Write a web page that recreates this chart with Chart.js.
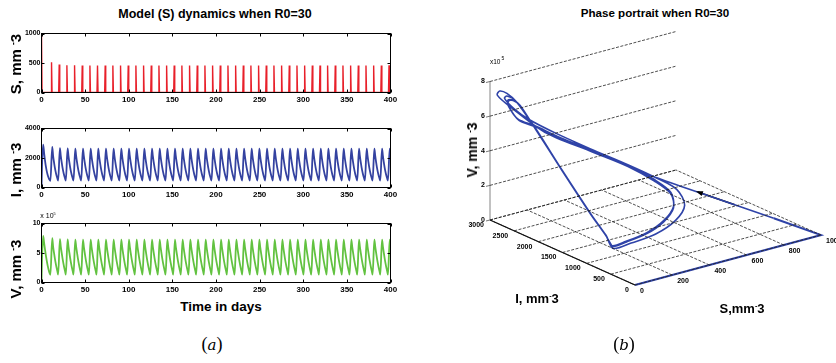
<!DOCTYPE html>
<html>
<head>
<meta charset="utf-8">
<script src="https://cdn.jsdelivr.net/npm/chart.js@4.4.0/dist/chart.umd.min.js"></script>
<style>
  body { margin: 0; width: 836px; height: 363px; overflow: hidden; position: relative; background: #fff;
         font-family: "Liberation Sans", Arial, sans-serif; }
  canvas { position: absolute; }
  .t { position: absolute; font-weight: bold; white-space: nowrap; color: #000; transform: translate(-50%, -50%); }
  .rot { transform: translate(-50%, -50%) rotate(-90deg); }
  sup { font-size: 55%; vertical-align: 0.6em; line-height: 0; }
  .cap { position: absolute; font-family: "Liberation Serif", "DejaVu Serif", serif; font-size: 18px; transform: translate(-50%, -50%); }
  .cap i { font-family: "DejaVu Serif", serif; font-size: 15px; }
</style>
</head>
<body>

<div class="t" style="left:215px;top:14px;font-size:12.5px">Model (S) dynamics when R0=30</div>
<div class="t" style="left:655px;top:12px;font-size:11.6px">Phase portrait when R0=30</div>

<canvas id="cS" width="400" height="82" style="left:0;top:25px"></canvas>
<canvas id="cI" width="400" height="82" style="left:0;top:120px"></canvas>
<canvas id="cV" width="400" height="82" style="left:0;top:215px"></canvas>
<canvas id="c3" width="396" height="320" style="left:440px;top:0"></canvas>

<div class="t rot" style="left:15px;top:64px;font-size:15px">S, mm <sup>-</sup>3</div>
<div class="t rot" style="left:15px;top:170px;font-size:15px">I, mm <sup>-</sup>3</div>
<div class="t rot" style="left:15px;top:269px;font-size:15px">V, mm <sup>-</sup>3</div>
<div class="t" style="left:48px;top:215px;font-size:7px;font-weight:normal">x 10<sup>5</sup></div>
<div class="t" style="left:221px;top:306px;font-size:13.5px">Time in days</div>

<div class="t rot" style="left:472px;top:150px;font-size:14px">V, mm <sup>-</sup>3</div>
<div class="t" style="left:537px;top:298px;font-size:13px">I, mm<sup>-</sup>3</div>
<div class="t" style="left:742px;top:308px;font-size:13px">S,mm<sup>-</sup>3</div>

<div class="cap" style="left:212px;top:344px">(<i>a</i>)</div>
<div class="cap" style="left:624px;top:344px">(<i>b</i>)</div>

<script>
// ---------- time series data (days, values) ----------
const xTicks = [0, 50, 100, 150, 200, 250, 300, 350, 400];

// days of each I peak (one per cycle)
const cycleDays = [12.3, 21.1, 29.9, 38.7, 47.5, 56.3, 65.0, 73.8, 82.6, 91.4, 100.2, 109.0, 117.8,
  126.6, 135.4, 144.2, 152.9, 161.7, 170.5, 179.3, 188.1, 196.9, 205.7, 214.5, 223.3, 232.1,
  240.8, 249.6, 258.4, 267.2, 276.0, 284.8, 293.6, 302.4, 311.2, 320.0, 328.7, 337.5, 346.3,
  355.1, 363.9, 372.7, 381.5, 390.3, 399.1];

// S: start + one spike per cycle
const sHeadDays = [0, 0.6];
const sHeadVals = [1000, 0];
const sSpikeOffsets = [-1.4, -0.8, -0.2];
const sPeaks = [514, 474, 463, 460, 458, 457, 457, 456, 457, 457, 456, 457, 457, 456, 457, 457,
  456, 457, 457, 456, 457, 457, 456, 457, 457, 456, 457, 457, 456, 457, 457, 456, 457, 457, 456,
  457, 457, 456, 457, 457, 456, 457, 457, 458, 460];

// I: first transient, then peak + decay per cycle
const iHeadDays = [0, 0.6, 1.9, 3, 4, 5, 6, 7, 8, 9, 10.2];
const iHeadVals = [0, 1500, 2900, 2330, 1840, 1430, 1110, 870, 680, 540, 450];
const iPeaks = [2757, 2665, 2645, 2640, 2640, 2640, 2640, 2640, 2640, 2640, 2640, 2640, 2640,
  2640, 2640, 2640, 2640, 2640, 2640, 2640, 2640, 2640, 2640, 2640, 2640, 2640, 2640, 2640,
  2640, 2640, 2640, 2640, 2640, 2640, 2640, 2640, 2640, 2640, 2640, 2640, 2640, 2640, 2640,
  2640, 2640];
const iDecayDays = [1, 2, 3, 4, 5, 6, 6.8];
const iDecayVals = [2150, 1720, 1350, 1040, 790, 590, 470];

// V (x 10^5)
const vHeadDays = [0, 0.5, 1.9, 3, 4, 5, 6, 7, 8, 9, 10.2];
const vHeadVals = [0, 3.5, 7.9, 6.7, 5.6, 4.6, 3.7, 2.9, 2.25, 1.7, 1.3];
const vPeaks = [7.5, 7.35, 7.3, 7.28, 7.25, 7.25, 7.25, 7.25, 7.25, 7.25, 7.25, 7.25, 7.25,
  7.25, 7.25, 7.25, 7.25, 7.25, 7.25, 7.25, 7.25, 7.25, 7.25, 7.25, 7.25, 7.25, 7.25, 7.25,
  7.25, 7.25, 7.25, 7.25, 7.25, 7.25, 7.25, 7.25, 7.25, 7.25, 7.25, 7.25, 7.25, 7.25, 7.25,
  7.25, 7.25];
const vDecayDays = [1, 2, 3, 4, 5, 6, 6.8];
const vDecayVals = [6.1, 5.05, 4.1, 3.25, 2.5, 1.85, 1.35];

// ---------- phase portrait data (S, I, V x10^5) ----------
const sTicks3 = [0, 200, 400, 600, 800, 1000];
const iTicks3 = [0, 500, 1000, 1500, 2000, 2500, 3000];
const vTicks3 = [0, 2, 4, 6, 8];

const phaseS = [0, 1000, 850, 650, 450, 250, 100, 20, 0, 0, 0, 0, 0, 0, 0, 0, 0,
  120, 270, 400, 480, 480, 420, 320, 190, 80, 15, 0, 0, 0, 0, 0, 0, 0, 0, 0,
  100, 230, 340, 420, 440, 390, 300, 180, 80, 20, 0, 0, 0, 0, 0, 0, 0, 0, 0, 0,
  100, 235, 345, 425, 445, 395, 305, 185, 82, 20, 0, 0, 0, 0, 0, 0, 0, 0, 0, 0];
const phaseI = [0, 0, 400, 800, 1250, 1700, 2200, 2650, 2850, 2800, 2650, 2450, 2100, 1500, 900, 600, 450,
  540, 610, 700, 820, 980, 1150, 1380, 1650, 1950, 2250, 2500, 2700, 2650, 2480, 2100, 1500, 900, 600, 470,
  560, 640, 720, 820, 950, 1100, 1300, 1550, 1850, 2150, 2400, 2600, 2620, 2520, 2380, 2100, 1500, 900, 600, 480,
  570, 650, 735, 840, 970, 1120, 1320, 1570, 1870, 2170, 2420, 2610, 2630, 2530, 2390, 2110, 1510, 910, 610, 480];
const phaseV = [0, 0, 0.9, 2.1, 3.3, 4.7, 5.7, 6.9, 7.4, 7.7, 7.75, 7.5, 6.55, 4.7, 2.9, 2.1, 1.55,
  1.4, 1.4, 1.7, 2.2, 2.9, 3.5, 4.3, 5.25, 6.1, 6.7, 7.05, 7.4, 7.6, 7.55, 6.6, 4.72, 2.92, 2.12, 1.65,
  1.5, 1.5, 1.75, 2.2, 2.8, 3.5, 4.35, 5.2, 5.9, 6.4, 6.5, 7.0, 7.35, 7.5, 7.4, 6.55, 4.7, 2.9, 2.1, 1.67,
  1.52, 1.55, 1.8, 2.25, 2.85, 3.55, 4.4, 5.25, 5.95, 6.45, 6.55, 7.02, 7.38, 7.52, 7.42, 6.6, 4.72, 2.92, 2.12, 1.67];

// initial-condition arrow
const arrowS = [712, 584];
const arrowI = [676, 948];
const arrowV = [1.73, 2.5];

// ================================
// build series
// ================================
function headPoints(days, vals) {
  return days.map((d, k) => ({ x: d, y: vals[k] }));
}

const sData = headPoints(sHeadDays, sHeadVals);
cycleDays.forEach((d, k) => {
  sData.push({ x: d + sSpikeOffsets[0], y: 0 });
  sData.push({ x: d + sSpikeOffsets[1], y: sPeaks[k] });
  sData.push({ x: d + sSpikeOffsets[2], y: 0 });
});

function cyclePoints(headDays, headVals, peaks, decayDays, decayVals) {
  const pts = headPoints(headDays, headVals);
  cycleDays.forEach((d, k) => {
    pts.push({ x: d, y: peaks[k] });
    decayDays.forEach((o, j) => pts.push({ x: d + o, y: decayVals[j] }));
  });
  return pts;
}
const iData = cyclePoints(iHeadDays, iHeadVals, iPeaks, iDecayDays, iDecayVals);
const vData = cyclePoints(vHeadDays, vHeadVals, vPeaks, vDecayDays, vDecayVals);

// ================================
// MATLAB-like box with inward ticks
// ================================
const boxPlugin = {
  id: "box",
  afterDraw(chart) {
    const { ctx, chartArea: a, scales: { x, y } } = chart;
    ctx.save();
    ctx.strokeStyle = "#000";
    ctx.lineWidth = 1;
    ctx.strokeRect(a.left, a.top, a.right - a.left, a.bottom - a.top);
    ctx.beginPath();
    x.ticks.forEach(t => {
      const p = Math.round(x.getPixelForValue(t.value)) + 0.5;
      ctx.moveTo(p, a.bottom); ctx.lineTo(p, a.bottom - 3);
      ctx.moveTo(p, a.top); ctx.lineTo(p, a.top + 3);
    });
    y.ticks.forEach(t => {
      const p = Math.round(y.getPixelForValue(t.value)) + 0.5;
      ctx.moveTo(a.left, p); ctx.lineTo(a.left + 3, p);
      ctx.moveTo(a.right, p); ctx.lineTo(a.right - 3, p);
    });
    ctx.stroke();
    ctx.restore();
  }
};

const tickFont = { family: "'Liberation Sans', Arial, sans-serif", size: 8, weight: "bold" };

function panel(id, data, color, width, yMax, yStep, smooth) {
  return new Chart(document.getElementById(id), {
    type: "line",
    data: {
      datasets: [{
        data,
        borderColor: color,
        borderWidth: width,
        pointRadius: 0,
        cubicInterpolationMode: smooth ? "monotone" : "default",
        tension: 0
      }]
    },
    options: {
      responsive: false,
      animation: false,
      events: [],
      layout: { padding: { top: 8.5, right: 9.5, left: 0, bottom: 0 } },
      plugins: { legend: { display: false }, tooltip: { enabled: false } },
      scales: {
        x: {
          type: "linear", min: 0, max: 400,
          afterBuildTicks: s => { s.ticks = xTicks.map(v => ({ value: v })); },
          afterFit: s => { s.height = 14.5; },
          grid: { display: false, drawTicks: false },
          border: { display: false },
          ticks: { font: tickFont, color: "#000", padding: 2, maxRotation: 0, callback: v => String(v) }
        },
        y: {
          min: 0, max: yMax,
          ticks: { stepSize: yStep, font: { ...tickFont, size: 7 }, color: "#000", padding: 1, callback: v => String(v) },
          afterFit: s => { s.width = 41.5; },
          grid: { display: false, drawTicks: false },
          border: { display: false }
        }
      }
    },
    plugins: [boxPlugin]
  });
}

panel("cS", sData, "#e8202a", 1.4, 1000, 500, false);
panel("cI", iData, "#3442a0", 1.8, 4000, 2000, true);
panel("cV", vData, "#62c240", 1.8, 10, 5, true);

// ================================
// PHASE PORTRAIT (projected 3D)
// ================================
// screen pixels per unit along S, I, V (x right, y up)
function proj(s, i, v) {
  return { x: s * 0.186 - i * 0.04833, y: s * 0.05 + i * 0.02167 + v * 17.31 };
}
function seg(pts, style) {
  return Object.assign({
    data: pts.map(p => proj(p[0], p[1], p[2])),
    showLine: true, pointRadius: 0, tension: 0
  }, style);
}

const gridStyle = { borderColor: "#222", borderWidth: 0.8, borderDash: [3, 1.5] };
const datasets = [];
iTicks3.forEach(i => datasets.push(seg([[0, i, 0], [1000, i, 0]], gridStyle)));
sTicks3.forEach(s => datasets.push(seg([[s, 0, 0], [s, 3000, 0]], gridStyle)));
vTicks3.forEach(v => datasets.push(seg([[0, 3000, v], [1000, 3000, v]], gridStyle)));
datasets.push(seg([[0, 3000, 0], [0, 3000, 8]], { borderColor: "#999", borderWidth: 1.2 }));
datasets.push(seg([[0, 0, 0], [0, 3000, 0]], { borderColor: "#000", borderWidth: 1.2 }));

const traj = phaseS.map((s, k) => [s, phaseI[k], phaseV[k]]);
datasets.push(seg(traj.slice(0, 3), { borderColor: "#2f43a8", borderWidth: 2 }));
datasets.push(seg(traj.slice(2), { borderColor: "#2f43a8", borderWidth: 1.6, tension: 0.3 }));
datasets.push(seg(arrowS.map((s, k) => [s, arrowI[k], arrowV[k]]), { borderColor: "#000", borderWidth: 1.6 }));

const phasePlugin = {
  id: "phaseLabels",
  afterDatasetsDraw(chart) {
    const { ctx, scales: { x, y } } = chart;
    const px = (s, i, v) => { const p = proj(s, i, v); return [x.getPixelForValue(p.x), y.getPixelForValue(p.y)]; };
    ctx.save();
    ctx.fillStyle = "#000";
    ctx.font = "bold 7px 'Liberation Sans', Arial, sans-serif";
    ctx.textBaseline = "middle";

    ctx.textAlign = "right";
    ctx.strokeStyle = "#555";
    ctx.lineWidth = 0.8;
    vTicks3.forEach(v => {
      const [a, b] = px(0, 3000, v);
      ctx.beginPath(); ctx.moveTo(a, b); ctx.lineTo(a - 4, b + 1); ctx.stroke();
      ctx.fillText(String(v), a - 5, b);
    });
    iTicks3.forEach(i => {
      const [a, b] = px(0, i, 0);
      ctx.fillText(String(i), a - 6, b + 5);
    });
    ctx.textAlign = "left";
    sTicks3.forEach(s => {
      const [a, b] = px(s, 0, 0);
      ctx.fillText(String(s), a + 5, b + 6);
    });
    // x10^5
    const [ea, eb] = px(0, 3000, 8);
    ctx.font = "6.5px 'Liberation Sans', Arial, sans-serif";
    ctx.fillText("x10", ea, eb - 19);
    ctx.font = "5px 'Liberation Sans', Arial, sans-serif";
    ctx.fillText("5", ea + 11.5, eb - 23);

    // arrow head
    const [t0, t1] = px(arrowS[0], arrowI[0], arrowV[0]);
    const [h0, h1] = px(arrowS[1], arrowI[1], arrowV[1]);
    const ang = Math.atan2(h1 - t1, h0 - t0);
    ctx.translate(h0, h1);
    ctx.rotate(ang);
    ctx.beginPath();
    ctx.moveTo(2, 0); ctx.lineTo(-5, -2.6); ctx.lineTo(-5, 2.6); ctx.closePath();
    ctx.fill();
    ctx.restore();
  }
};

new Chart(document.getElementById("c3"), {
  type: "scatter",
  data: { datasets },
  options: {
    responsive: false,
    animation: false,
    events: [],
    layout: { padding: 0 },
    plugins: { legend: { display: false }, tooltip: { enabled: false } },
    scales: {
      x: { type: "linear", min: -195, max: 201, display: false },
      y: { type: "linear", min: -35, max: 285, display: false }
    }
  },
  plugins: [phasePlugin]
});
</script>
</body>
</html>
